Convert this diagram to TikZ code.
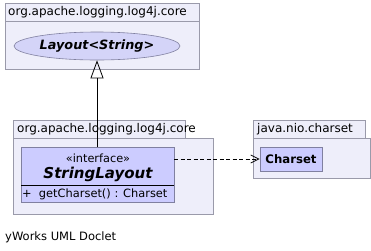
\documentclass[tikz,border=0pt]{standalone}
\usepackage{fontspec}
\setmainfont{DejaVu Sans}
\usetikzlibrary{shapes.geometric,arrows.meta}
\definecolor{pkgfill}{HTML}{EEEEFA}
\definecolor{pkgline}{HTML}{9A9AAA}
\definecolor{clsfill}{HTML}{CCCCFF}
\definecolor{ellfill}{HTML}{D4D4F8}
\definecolor{clsline}{HTML}{8080A0}
\tikzset{
  pkgtab/.style={draw=pkgline, fill=pkgfill, line width=0.8pt},
  pkgbody/.style={draw=pkgline, fill=pkgfill, line width=0.8pt},
  pkglabel/.style={anchor=west, inner sep=0pt, font=\fontsize{12}{14}\selectfont},
  classbox/.style={draw=clsline, fill=clsfill, line width=0.8pt},
  realize/.style={-{Triangle[open, length=18pt, width=13pt]}, line width=0.8pt},
  depend/.style={-{Straight Barb[length=8pt, width=8pt]}, dashed, dash pattern=on 4pt off 2.5pt, line width=0.8pt},
}
\begin{document}
\begin{tikzpicture}[x=1pt, y=-1pt]
\useasboundingbox (0,0) rectangle (371,250);
\fill[white] (0,0) rectangle (371,250);

% package org.apache.logging.log4j.core (top)
\draw[pkgtab] (5,3) rectangle (199,21);
\draw[pkgbody] (5,21) rectangle (199,69);
\node[pkglabel] (pkgA) at (8,12) {org.apache.logging.log4j.core};
\node[ellipse, draw=clsline, fill=ellfill, line width=0.6pt, minimum width=166pt, minimum height=28pt, inner sep=0pt,
      font=\fontsize{12.8}{14}\selectfont\bfseries\itshape] (layout) at (97,46) {Layout<String>};

% package org.apache.logging.log4j.core (bottom)
\draw[pkgtab] (13,120) rectangle (185,138);
\draw[pkgbody] (13,138) rectangle (213,214);
\node[pkglabel] (pkgB) at (17,129) {org.apache.logging.log4j.core};

% interface StringLayout
\draw[classbox] (21,147) rectangle (174,202);
\draw[line width=1.6pt] (21,185.5) -- (174,185.5);
\node[inner sep=0pt, font=\fontsize{11.3}{13}\selectfont] (stereo) at (98,158) {«interface»};
\node[inner sep=0pt, font=\fontsize{15}{17}\selectfont\bfseries\itshape] (strlayout) at (98,174) {StringLayout};
\node[anchor=west, inner sep=0pt, font=\fontsize{11.4}{13}\selectfont] (method) at (22,194) {+\ \ getCharset() : Charset};
\coordinate (slTop) at (97,147);
\coordinate (slRight) at (174,159);

% package java.nio.charset
\draw[pkgtab] (253,120) rectangle (365,138);
\draw[pkgbody] (253,138) rectangle (370,178);
\node[pkglabel] (pkgC) at (257,129) {java.nio.charset};

% class Charset
\node[classbox, minimum width=62pt, minimum height=24pt, inner sep=0pt,
      font=\fontsize{11.7}{13}\selectfont\bfseries] (charset) at (291,159) {Charset};

% connectors
\draw[realize] (slTop) -- (layout.south);
\draw[depend] (slRight) -- (charset.west);

\node[anchor=west, inner sep=0pt, font=\fontsize{11.5}{13}\selectfont] (footer) at (5,237) {yWorks UML Doclet};
\end{tikzpicture}
\end{document}
